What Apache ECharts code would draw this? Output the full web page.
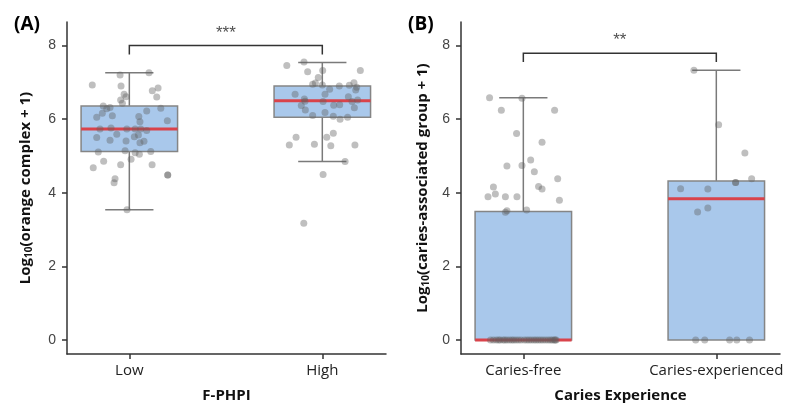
<!DOCTYPE html>
<html>
<head>
<meta charset="utf-8">
<script src="https://cdn.jsdelivr.net/npm/echarts@6/dist/echarts.min.js"></script>
<style>
  html, body { margin: 0; padding: 0; background: #fff; }
  #chart { width: 794px; height: 407px; }
</style>
</head>
<body>
<div id="chart"></div>
<script>
// panel A: F-PHPI groups
const catsA = ['Low', 'High'];
// [lower whisker, Q1, median, Q3, upper whisker]
const boxA = [
  [3.54, 5.12, 5.73, 6.36, 7.26],
  [4.85, 6.05, 6.50, 6.90, 7.54]
];
const lowVals = [6.93, 7.20, 7.26, 6.90, 6.68, 6.61, 6.77, 6.85, 6.60, 6.52, 6.43, 6.36, 6.28, 6.32, 6.05, 6.16, 6.09,
  6.22, 6.30, 6.07, 5.93, 5.96, 5.73, 5.76, 5.50, 5.59, 5.43, 5.73, 5.73, 5.73, 5.69, 5.52, 5.57, 5.36, 5.40, 5.41,
  5.11, 5.14, 5.09, 5.05, 5.12, 4.91, 4.68, 4.86, 4.76, 4.76, 4.38, 4.27, 4.48, 4.48, 3.54];
const lowJitter = [-0.192, -0.048, 0.102, -0.043, -0.027, -0.017, 0.119, 0.149, 0.142, -0.045, -0.036, -0.135, -0.117,
  -0.100, -0.169, -0.140, -0.088, 0.090, 0.163, 0.049, 0.055, 0.197, -0.152, -0.095, -0.169, -0.065, -0.100, -0.013,
  0.030, 0.059, 0.090, 0.026, 0.047, 0.055, 0.076, -0.017, -0.161, -0.022, 0.030, 0.052, 0.111, 0.009, -0.187, -0.133,
  -0.045, 0.118, -0.074, -0.079, 0.199, 0.199, -0.012];
const highVals = [7.46, 7.55, 7.29, 7.32, 7.32, 7.13, 6.98, 6.95, 6.93, 6.99, 6.92, 6.87, 6.79, 6.90, 6.81, 6.68, 6.68,
  6.55, 6.49, 6.48, 6.52, 6.61, 6.48, 6.38, 6.39, 6.37, 6.25, 6.31, 6.18, 6.08, 6.10, 6.00, 6.05, 5.51, 5.51, 5.62,
  5.30, 5.32, 5.28, 5.30, 4.85, 4.50, 3.17];
const highJitter = [-0.184, -0.095, -0.076, 0.002, 0.197, -0.021, -0.036, -0.050, 0.000, 0.164, 0.140, 0.178, 0.173,
  0.088, 0.038, 0.014, -0.141, -0.093, -0.090, 0.004, 0.183, 0.135, 0.154, 0.059, 0.090, -0.109, -0.088, 0.166, 0.014,
  0.057, -0.050, 0.092, 0.131, -0.136, 0.023, 0.057, -0.171, -0.041, 0.044, 0.169, 0.118, 0.004, -0.096];

// panel B: caries experience
const catsB = ['Caries-free', 'Caries-experienced'];
const boxB = [
  [0, 0, 0, 3.49, 6.58],
  [0, 0, 3.84, 4.32, 7.33]
];
const freeVals = [6.58, 6.57, 6.24, 6.24, 5.61, 5.37, 4.73, 4.74, 4.89, 4.57, 4.16, 3.97, 3.89, 3.89, 3.89, 4.17, 4.10,
  4.38, 3.80, 3.47, 3.51, 3.53,
  0, 0, 0, 0, 0, 0, 0, 0, 0, 0, 0, 0, 0, 0, 0, 0, 0, 0, 0, 0, 0, 0, 0, 0, 0, 0, 0, 0, 0, 0];
const freeJitter = [-0.175, -0.007, -0.114, 0.162, -0.035, 0.097, -0.085, -0.007, 0.038, 0.057, -0.155, -0.145, -0.183,
  -0.093, -0.033, 0.079, 0.097, 0.178, 0.187, -0.093, -0.085, 0.017,
  -0.170, -0.155, -0.140, -0.128, -0.120, -0.105, -0.096, -0.085, -0.072, -0.060, -0.050, -0.038, -0.025, -0.012,
  0.005, 0.018, 0.030, 0.042, 0.055, 0.066, 0.078, 0.090, 0.102, 0.115, 0.128, 0.140, 0.150, 0.160, 0.170, 0.165];
const expVals = [7.33, 5.85, 5.08, 4.38, 4.28, 4.28, 4.11, 4.10, 3.48, 3.59, 0, 0, 0, 0, 0];
const expJitter = [-0.116, 0.012, 0.148, 0.183, 0.100, 0.100, -0.185, -0.044, -0.097, -0.044, -0.107, -0.060, 0.069,
  0.106, 0.172];

// significance brackets: [x0, x1, bar y, drop y, label y]
const bracketA = [0, 1, 8.0, 7.76, 8.34];
const bracketB = [0, 1, 7.79, 7.55, 8.13];
const starsA = '***';
const starsB = '**';

const yTicks = [0, 2, 4, 6, 8];

const chart = echarts.init(document.getElementById('chart'));

function pts(vals, jit, center) {
  return vals.map((v, i) => [center + jit[i], v]);
}

function boxRender(params, api) {
  const x = api.value(0);
  const lo = api.value(1), q1 = api.value(2), med = api.value(3), q3 = api.value(4), hi = api.value(5);
  const tl = api.coord([x - 0.25, q3]);
  const br = api.coord([x + 0.25, q1]);
  const mid = api.coord([x, med]);
  const top = api.coord([x, hi]);
  const bot = api.coord([x, lo]);
  const capL = api.coord([x - 0.125, hi])[0];
  const capR = api.coord([x + 0.125, hi])[0];
  const lineSt = { stroke: '#7a7a7a', lineWidth: 1.5 };
  const kids = [
    { type: 'line', shape: { x1: top[0], y1: top[1], x2: top[0], y2: tl[1] }, style: lineSt },
    { type: 'line', shape: { x1: capL, y1: top[1], x2: capR, y2: top[1] }, style: lineSt }
  ];
  if (lo < q1) {
    kids.push({ type: 'line', shape: { x1: bot[0], y1: br[1], x2: bot[0], y2: bot[1] }, style: lineSt });
    kids.push({ type: 'line', shape: { x1: capL, y1: bot[1], x2: capR, y2: bot[1] }, style: lineSt });
  }
  kids.push({
    type: 'rect',
    shape: { x: tl[0], y: tl[1], width: br[0] - tl[0], height: br[1] - tl[1] },
    style: { fill: '#a9c8eb', stroke: '#858585', lineWidth: 1.5 }
  });
  kids.push({
    type: 'line',
    shape: { x1: tl[0], y1: mid[1], x2: br[0], y2: mid[1] },
    style: { stroke: '#d9434b', lineWidth: 3 }
  });
  return { type: 'group', children: kids };
}

function bracketRender(params, api) {
  const x0 = api.value(0), x1 = api.value(1), y = api.value(2), yd = api.value(3);
  const a = api.coord([x0, yd]), b = api.coord([x0, y]), c = api.coord([x1, y]), d = api.coord([x1, yd]);
  return {
    type: 'polyline',
    shape: { points: [a, b, c, d] },
    style: { stroke: '#333', lineWidth: 1.5, fill: null }
  };
}

function xAxisFor(idx, cats, name) {
  return {
    type: 'value', gridIndex: idx, min: -0.323, max: 1.33,
    name: name, nameLocation: 'middle', nameGap: 34,
    nameTextStyle: { fontFamily: 'Open Sans', fontWeight: 'bold', fontSize: 15, color: '#111' },
    axisLine: { onZero: false, lineStyle: { color: '#333', width: 1.5 } },
    axisTick: { customValues: [0, 1], length: 5, lineStyle: { color: '#333', width: 1.5 } },
    axisLabel: {
      customValues: [0, 1], margin: 9,
      formatter: v => cats[Math.round(v)],
      fontFamily: 'Open Sans', fontSize: 15, color: '#222'
    },
    splitLine: { show: false }
  };
}

function yAxisFor(idx, text, gap) {
  return {
    type: 'value', gridIndex: idx, min: -0.38, max: 8.64,
    name: '{b|Log}{s|10}{b|' + text + '}', nameLocation: 'middle', nameGap: gap,
    nameTextStyle: {
      rich: {
        b: { fontFamily: 'Open Sans', fontWeight: 'bold', fontSize: 15, color: '#111' },
        s: { fontFamily: 'Open Sans', fontWeight: 'bold', fontSize: 10, color: '#111', padding: [7, 0, 0, 0] }
      }
    },
    axisLine: { show: true, onZero: false, lineStyle: { color: '#333', width: 1.5 } },
    axisTick: { show: true, customValues: yTicks, length: 5, lineStyle: { color: '#333', width: 1.5 } },
    axisLabel: { customValues: yTicks, margin: 11, fontFamily: 'Liberation Sans', fontSize: 14, color: '#444' },
    splitLine: { show: false }
  };
}

const pointStyle = { color: 'rgba(95,95,95,0.5)' };

chart.setOption({
  animation: false,
  backgroundColor: '#fff',
  title: [
    { text: '(A)', left: 9, top: 10, textStyle: { fontFamily: 'Open Sans', fontWeight: 'bold', fontSize: 19, color: '#000' } },
    { text: '(B)', left: 403, top: 10, textStyle: { fontFamily: 'Open Sans', fontWeight: 'bold', fontSize: 19, color: '#000' } }
  ],
  grid: [
    { left: 67, top: 22, width: 319, height: 332, outerBoundsMode: 'none' },
    { left: 461, top: 22, width: 319, height: 332, outerBoundsMode: 'none' }
  ],
  xAxis: [xAxisFor(0, catsA, 'F-PHPI'), xAxisFor(1, catsB, 'Caries Experience')],
  yAxis: [yAxisFor(0, '(orange complex + 1)', 33), yAxisFor(1, '(caries-associated group + 1)', 30)],
  series: [
    {
      type: 'custom', xAxisIndex: 0, yAxisIndex: 0, renderItem: boxRender, z: 2,
      data: boxA.map((b, i) => [i].concat(b))
    },
    {
      type: 'custom', xAxisIndex: 1, yAxisIndex: 1, renderItem: boxRender, z: 2,
      data: boxB.map((b, i) => [i].concat(b))
    },
    { type: 'scatter', xAxisIndex: 0, yAxisIndex: 0, symbolSize: 7, itemStyle: pointStyle, z: 3, data: pts(lowVals, lowJitter, 0) },
    { type: 'scatter', xAxisIndex: 0, yAxisIndex: 0, symbolSize: 7, itemStyle: pointStyle, z: 3, data: pts(highVals, highJitter, 1) },
    { type: 'scatter', xAxisIndex: 1, yAxisIndex: 1, symbolSize: 7, itemStyle: pointStyle, z: 3, data: pts(freeVals, freeJitter, 0) },
    { type: 'scatter', xAxisIndex: 1, yAxisIndex: 1, symbolSize: 7, itemStyle: pointStyle, z: 3, data: pts(expVals, expJitter, 1) },
    { type: 'custom', xAxisIndex: 0, yAxisIndex: 0, renderItem: bracketRender, data: [bracketA] },
    { type: 'custom', xAxisIndex: 1, yAxisIndex: 1, renderItem: bracketRender, data: [bracketB] },
    {
      type: 'scatter', xAxisIndex: 0, yAxisIndex: 0, symbolSize: 0, silent: true,
      label: { show: true, position: 'inside', formatter: starsA, fontFamily: 'Liberation Sans', fontSize: 17, color: '#222' },
      data: [[(bracketA[0] + bracketA[1]) / 2, bracketA[4]]]
    },
    {
      type: 'scatter', xAxisIndex: 1, yAxisIndex: 1, symbolSize: 0, silent: true,
      label: { show: true, position: 'inside', formatter: starsB, fontFamily: 'Liberation Sans', fontSize: 17, color: '#222' },
      data: [[(bracketB[0] + bracketB[1]) / 2, bracketB[4]]]
    }
  ]
});
</script>
</body>
</html>
